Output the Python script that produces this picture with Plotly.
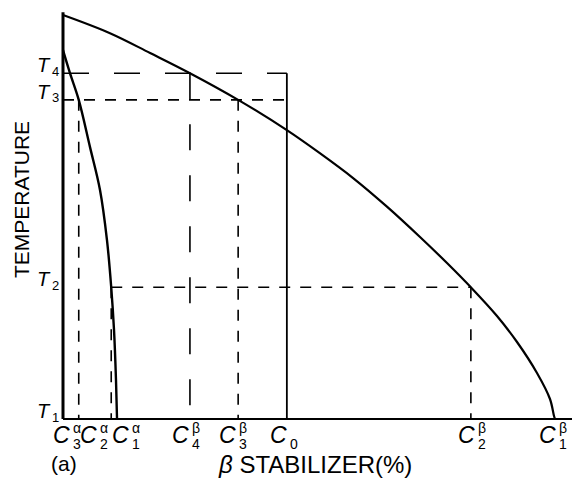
import plotly.graph_objects as go

# ---------------- data ----------------
# beta transus (upper curve): composition (%) vs temperature (arb. units)
beta_x = [0, 9.55, 17.7, 25.8, 35.6, 45.5, 52.2, 58.9, 65.9, 72.56, 78.05, 82.9, 88.21, 92.28, 96.34, 98.98, 99.8, 100]
beta_y = [100, 95.5, 90.6, 85.6, 79.0, 71.5, 65.8, 59.7, 52.5, 45.05, 38.61, 32.6, 25.5, 19.06, 11.39, 4.95, 0.74, 0]
# alpha solvus (left curve)
alpha_x = [0, 1.42, 3.2, 5.49, 7.52, 8.94, 9.8, 10.37, 10.77, 10.98]
alpha_y = [91.3, 85.6, 79.0, 67.3, 56.7, 44.3, 32.6, 22.0, 9.65, 0]

# temperatures
temp_subs = ["1", "2", "3", "4"]
temp_vals = [0, 32.6, 79.0, 85.6]

# compositions
comp_sup = ["α", "α", "α", "β", "β", "", "β", "β"]
comp_sub = ["3", "2", "1", "4", "3", "0", "2", "1"]
comp_vals = [3.2, 9.8, 10.98, 25.8, 35.6, 45.5, 82.9, 100]
C3a, C2a, C1a, C4b, C3b, C0, C2b, C1b = comp_vals
T1, T2, T3, T4 = temp_vals

# label pixel offsets (style)
label_dx = [-8, -13, 13, 0, -1, 1, 5, 2]

# ---------------- figure ----------------
PX_X = 4.92
PX_Y = 4.04
W, H = 572, 486
l, b = 57, 61
PW, PH = W - l, H - b
fig = go.Figure()

def line(xs, ys, width=1.6, dash="solid", shape="linear"):
    fig.add_trace(go.Scatter(x=xs, y=ys, mode="lines", showlegend=False, hoverinfo="skip",
                             line=dict(color="black", width=width, dash=dash, shape=shape)))

SHORT = "11px,10px"
LONG = "26px,25px"

# axes
line([0, 0], [0, 100.7], width=3)
line([0, 103.5], [0, 0], width=2)

# curves
line(beta_x, beta_y, width=2.2, shape="spline")
line(alpha_x, alpha_y, width=2.4, shape="spline")

# T4 / C4beta long dashes
line([0, C0], [T4, T4], dash=LONG)
line([C4b, C4b], [T4, 0], dash=LONG)
# C0 solid
line([C0, C0], [T4, 0], width=1.8)
# T3 short dashes
line([0, C0], [T3, T3], dash=SHORT)
line([C3a, C3a], [T3, 0], dash=SHORT)
line([C3b, C3b], [T3, 0], dash=SHORT)
# T2
line([C2a, C2b], [T2, T2], dash=SHORT)
line([C2a, C2a], [T2, 0], dash=SHORT)
line([C2b, C2b], [T2, 0], dash=SHORT)

FONT = "Liberation Sans, Arial, sans-serif"


def px(xp, yp):
    return (xp - l) / PW, (PH - yp) / PH


ann = []
# temperature labels
for s, t in zip(temp_subs, temp_vals):
    ann.append(dict(x=0, y=t, xref="x", yref="y", text="<i>T</i>", showarrow=False,
                    xanchor="right", yanchor="middle", xshift=-11, yshift=8, borderpad=0,
                    font=dict(family=FONT, size=20, color="black")))
    ann.append(dict(x=0, y=t, xref="x", yref="y", text=s, showarrow=False,
                    xanchor="left", yanchor="middle", xshift=-12, yshift=2, borderpad=0,
                    font=dict(family=FONT, size=13, color="black")))
# composition labels
for sup, sub, c, dx in zip(comp_sup, comp_sub, comp_vals, label_dx):
    ann.append(dict(x=c, y=0, xref="x", yref="y", text="<i>C</i>", showarrow=False,
                    xanchor="right", yanchor="middle", xshift=dx, yshift=-16, borderpad=0,
                    font=dict(family=FONT, size=23, color="black")))
    if sup:
        ann.append(dict(x=c, y=0, xref="x", yref="y", text=sup, showarrow=False,
                        xanchor="left", yanchor="middle", xshift=dx + 1, yshift=-9, borderpad=0,
                        font=dict(family=FONT, size=14, color="black")))
    ann.append(dict(x=c, y=0, xref="x", yref="y", text=sub, showarrow=False,
                    xanchor="left", yanchor="middle", xshift=dx + 1, yshift=-25, borderpad=0,
                    font=dict(family=FONT, size=14, color="black")))

ax, ay = px(64, 463)
ann.append(dict(x=ax, y=ay, xref="paper", yref="paper", text="(a)", showarrow=False,
                xanchor="center", yanchor="middle", font=dict(family=FONT, size=21, color="black")))
bx, by = px(315, 464)
ann.append(dict(x=bx, y=by, xref="paper", yref="paper",
                text="<i>β</i> STABILIZER(%)", showarrow=False, xanchor="center", yanchor="middle",
                font=dict(family=FONT, size=24, color="black")))
tx, ty = px(21, 200)
ann.append(dict(x=tx, y=ty, xref="paper", yref="paper",
                text="TEMPERATURE", showarrow=False, textangle=-90, xanchor="center", yanchor="middle",
                font=dict(family=FONT, size=21, color="black")))

fig.update_layout(
    width=W, height=H, margin=dict(l=l, r=0, t=0, b=b, pad=0),
    paper_bgcolor="white", plot_bgcolor="white",
    xaxis=dict(range=[-(63 - l) / PX_X, (W - 63) / PX_X], visible=False, fixedrange=True),
    yaxis=dict(range=[-(H - b - 419) / PX_Y, 419 / PX_Y], visible=False, fixedrange=True),
    annotations=ann, showlegend=False,
)
fig.write_html("out.html")
